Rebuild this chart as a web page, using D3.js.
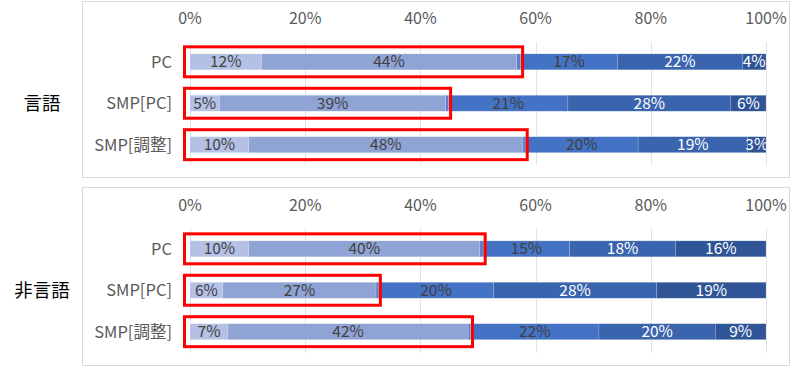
<!DOCTYPE html>
<html><head><meta charset="utf-8">
<script src="https://cdn.jsdelivr.net/npm/d3@7"></script>
<style>body{margin:0;background:#fff;}svg{display:block;}</style>
</head><body><svg id="c" width="800" height="366"></svg>
<script>
const groups = ["言語", "非言語"];
const categories = ["PC", "SMP[PC]", "SMP[調整]"];
const ticks = [0, 20, 40, 60, 80, 100];
// six response levels, values in % (third level is a thin unlabeled sliver)
const verbal = [
  [12.4, 44.3, 0.7, 16.8, 21.7, 4.1],
  [5.1, 39.3, 0.5, 20.7, 28.3, 6.1],
  [10.2, 47.6, 0.4, 19.6, 19.0, 3.2]
];
const nonverbal = [
  [10.2, 40.1, 0.6, 15.0, 18.4, 15.7],
  [5.7, 26.6, 0.4, 20.0, 28.3, 19.0],
  [6.6, 41.7, 0.4, 22.3, 20.2, 8.8]
];
const labels = [
  [["12%","44%","","17%","22%","4%"],["5%","39%","","21%","28%","6%"],["10%","48%","","20%","19%","3%"]],
  [["10%","40%","","15%","18%","16%"],["6%","27%","","20%","28%","19%"],["7%","42%","","22%","20%","9%"]]
];
// number of leading levels enclosed by the red highlight box
const boxLevels = 3;

const colors = ["#b4c1e4", "#8fa3d5", "#5f80c8", "#4472c4", "#3a64ae", "#2f5597"];
const textColors = ["#404040", "#404040", "#404040", "#404040", "#ffffff", "#ffffff"];
const font = "'Noto Sans CJK JP', 'Noto Sans', sans-serif";

const svg = d3.select("#c");
const x = d3.scaleLinear().domain([0, 100]).range([190, 766]);

const panels = [
  {data: verbal, lab: labels[0], top: 1, bottom: 177, tickY: 18, gridTop: 42, gridBot: 165, bandTop: 41},
  {data: nonverbal, lab: labels[1], top: 187, bottom: 365, tickY: 205, gridTop: 228, gridBot: 353, bandTop: 228}
];

panels.forEach((p, pi) => {
  const g = svg.append("g");
  g.append("rect").attr("x", 82.5).attr("y", p.top + 0.5).attr("width", 707).attr("height", p.bottom - p.top)
    .attr("fill", "#fff").attr("stroke", "#d9d9d9").attr("stroke-width", 1);

  // gridlines
  g.selectAll("line.grid").data(ticks).enter().append("line")
    .attr("x1", d => Math.round(x(d)) + 0.5).attr("x2", d => Math.round(x(d)) + 0.5)
    .attr("y1", p.gridTop).attr("y2", p.gridBot)
    .attr("stroke", "#e3e3e3").attr("stroke-width", 1);

  // axis tick labels
  g.selectAll("text.tick").data(ticks).enter().append("text")
    .attr("x", d => x(d)).attr("y", p.tickY).attr("dy", "0.35em")
    .attr("text-anchor", "middle").attr("font-family", font).attr("font-size", 16)
    .attr("fill", "#595959").text(d => d + "%");

  const y = d3.scaleBand().domain(categories).range([p.bandTop, p.bandTop + 124.5]).paddingInner(0.615).paddingOuter(0.31);

  categories.forEach((cat, ci) => {
    const vals = p.data[ci];
    const cum = d3.cumsum(vals);
    const starts = vals.map((v, i) => i === 0 ? 0 : cum[i - 1]);
    const by = y(cat), bh = y.bandwidth();
    const row = g.append("g");
    row.selectAll("rect").data(vals).enter().append("rect")
      .attr("x", (d, i) => x(starts[i])).attr("y", by)
      .attr("width", (d, i) => x(starts[i] + d) - x(starts[i])).attr("height", bh)
      .attr("fill", (d, i) => colors[i])
      .attr("stroke", "#ffffff").attr("stroke-opacity", 0.25).attr("stroke-width", 0.6);
    row.selectAll("text").data(vals).enter().append("text")
      .attr("x", (d, i) => x(starts[i] + d / 2)).attr("y", by + bh / 2).attr("dy", "0.36em")
      .attr("text-anchor", "middle").attr("font-family", font).attr("font-size", 15.5)
      .attr("fill", (d, i) => textColors[i]).text((d, i) => p.lab[ci][i]);

    // category label
    g.append("text").attr("x", 172).attr("y", by + bh / 2).attr("dy", "0.36em")
      .attr("text-anchor", "end").attr("font-family", font).attr("font-size", 16.5)
      .attr("fill", "#595959").text(cat);

    // red highlight box
    const endX = x(cum[boxLevels - 1]);
    g.append("rect").attr("x", x(0) - 5.5).attr("y", by - 7)
      .attr("width", endX - x(0) + 7.5).attr("height", bh + 14)
      .attr("fill", "none").attr("stroke", "#ff0000").attr("stroke-width", 3);
  });

  // group label
  const midY = y(categories[1]) + y.bandwidth() / 2;
  svg.append("text").attr("x", 42).attr("y", midY).attr("dy", "0.36em")
    .attr("text-anchor", "middle").attr("font-family", font).attr("font-size", 18.5)
    .attr("fill", "#000").text(groups[pi]);
});
</script></body></html>
